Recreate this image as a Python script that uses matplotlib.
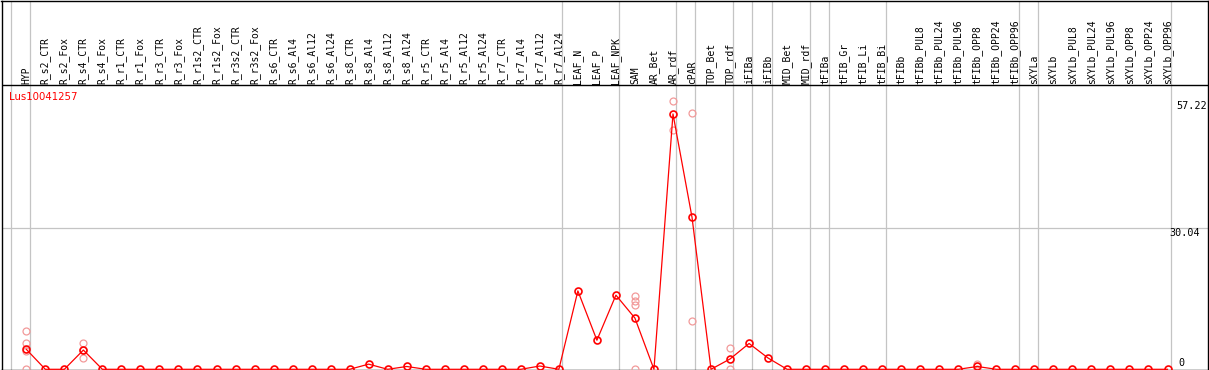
import matplotlib
matplotlib.use("Agg")
import matplotlib.pyplot as plt
from matplotlib.transforms import blended_transform_factory

# ---------------- data ----------------
categories = [
    "HYP",
    "R_s2_CTR", "R_s2_Fox", "R_s4_CTR", "R_s4_Fox", "R_r1_CTR", "R_r1_Fox",
    "R_r3_CTR", "R_r3_Fox", "R_r1s2_CTR", "R_r1s2_Fox", "R_r3s2_CTR", "R_r3s2_Fox",
    "R_s6_CTR", "R_s6_Al4", "R_s6_Al12", "R_s6_Al24",
    "R_s8_CTR", "R_s8_Al4", "R_s8_Al12", "R_s8_Al24",
    "R_r5_CTR", "R_r5_Al4", "R_r5_Al12", "R_r5_Al24",
    "R_r7_CTR", "R_r7_Al4", "R_r7_Al12", "R_r7_Al24",
    "LEAF_N", "LEAF_P", "LEAF_NPK",
    "SAM", "AR_Bet", "AR_rdf", "cPAR", "TOP_Bet", "TOP_rdf",
    "iFIBa", "iFIBb", "MID_Bet", "MID_rdf",
    "tFIBa", "tFIB_Gr", "tFIB_Li", "tFIB_Bi",
    "tFIBb", "tFIBb_PUL8", "tFIBb_PUL24", "tFIBb_PUL96",
    "tFIBb_OPP8", "tFIBb_OPP24", "tFIBb_OPP96",
    "sXYLa", "sXYLb", "sXYLb_PUL8", "sXYLb_PUL24", "sXYLb_PUL96",
    "sXYLb_OPP8", "sXYLb_OPP24", "sXYLb_OPP96",
]

mean_values = [
    4.26,
    0, 0, 4.1, 0, 0, 0,
    0, 0, 0, 0, 0, 0,
    0, 0, 0, 0,
    0, 1.1, 0, 0.6,
    0, 0, 0, 0,
    0, 0, 0.7, 0,
    16.7, 6.2, 15.8,
    10.9, 0, 54.4, 32.4, 0, 2.2,
    5.5, 2.4, 0, 0,
    0, 0, 0, 0,
    0, 0, 0, 0,
    0.6, 0, 0,
    0, 0, 0, 0, 0,
    0, 0, 0,
]

# individual replicate measurements (category name -> values)
replicates = {
    "HYP": [8.2, 5.7, 3.8, 0.0],
    "R_s4_CTR": [5.7, 4.1, 2.5],
    "SAM": [15.6, 14.5, 13.6, 0.0],
    "AR_rdf": [57.22, 51.0],
    "cPAR": [54.6, 10.3],
    "TOP_rdf": [4.5, 0.0],
    "tFIBb_OPP8": [1.1, 0.0],
}

# last category of each sample group (group separators drawn after these)
group_ends = ["HYP", "R_r7_Al24", "LEAF_NPK", "AR_rdf", "cPAR", "TOP_rdf",
              "iFIBa", "iFIBb", "MID_rdf", "tFIBa", "tFIB_Bi", "tFIBb_OPP96",
              "sXYLa", "sXYLb_OPP96"]

y_ticks = [0, 30.04, 57.22]
gene_id = "Lus10041257"

# ---------------- layout ----------------
W, H = 1209, 370
fig = plt.figure(figsize=(W / 100, H / 100), dpi=100)
fig.patch.set_facecolor("white")

left_px, right_px, top_px, bot_px = 1.5, 1208.0, 0.5, 369.5
ax = fig.add_axes([left_px / W, (H - bot_px) / H,
                   (right_px - left_px) / W, (bot_px - top_px) / H])

x0_px, dx_px = 26.3, 19.02        # pixel of first category, spacing
y0_px, dy_px = 369.3, 4.694       # pixel of value 0, pixels per unit
ax.set_xlim((left_px - x0_px) / dx_px, (right_px - x0_px) / dx_px)
ax.set_ylim((y0_px - bot_px) / dy_px, (y0_px - top_px) / dy_px)
ax.set_xticks([])
ax.set_yticks([])
for s in ax.spines.values():
    s.set_color("black")
    s.set_linewidth(1.0)

header_frac = 1 - (85 - top_px) / (bot_px - top_px)
label_frac = 1 - (83.5 - top_px) / (bot_px - top_px)

grid_col = "#c4c4c4"
# group separators
for name in group_ends:
    ax.axvline(categories.index(name) + 0.18, color=grid_col, lw=0.9, zorder=1)
ax.axvline(-0.82, color=grid_col, lw=0.9, zorder=1)
# horizontal grid at the middle tick
ymax_data = (y0_px - 85) / dy_px
for t in y_ticks[1:-1]:
    ax.axhline(t, color=grid_col, lw=0.9, zorder=1)
# header separator
ax.axhline(ymax_data, color="black", lw=1.0, zorder=3)

xs = list(range(len(categories)))
trans_lab = blended_transform_factory(ax.transData, ax.transAxes)
for i, name in enumerate(categories):
    ax.text(i, label_frac, name, rotation=90, ha="center", va="bottom",
            fontsize=7.0, family="DejaVu Sans Mono", transform=trans_lab)

# replicates
for name, vals in replicates.items():
    i = categories.index(name)
    ax.plot([i] * len(vals), vals, linestyle="none", marker="o",
            markersize=5.0, markerfacecolor="none", markeredgecolor="#f29a9a",
            markeredgewidth=0.9, zorder=4, clip_on=False)

# means
ax.plot(xs, mean_values, color="red", lw=0.9, marker="o", markersize=5.0,
        markerfacecolor="none", markeredgecolor="red", markeredgewidth=1.2,
        zorder=5, clip_on=False)

# y tick labels at the right
trans_y = blended_transform_factory(fig.transFigure, ax.transData)
tick_left_px = {0: 1178, 30.04: 1169.5, 57.22: 1176.5}
for t in y_ticks:
    va = "bottom" if t == 0 else "top"
    yy = t + (1.0 / dy_px if t == 0 else -0.2 / dy_px)
    ax.text(tick_left_px[t] / W, yy, f"{t:g}" if t == 0 else f"{t:.2f}",
            ha="left", va=va, fontsize=7.3, family="DejaVu Sans Mono",
            color="black", transform=trans_y, clip_on=False)

fig.text(9.0 / W, 1 - 97.0 / H, gene_id, color="red", fontsize=7.3,
         family="DejaVu Sans", ha="left", va="center")

fig.savefig("out.png", dpi=100, facecolor="white")
